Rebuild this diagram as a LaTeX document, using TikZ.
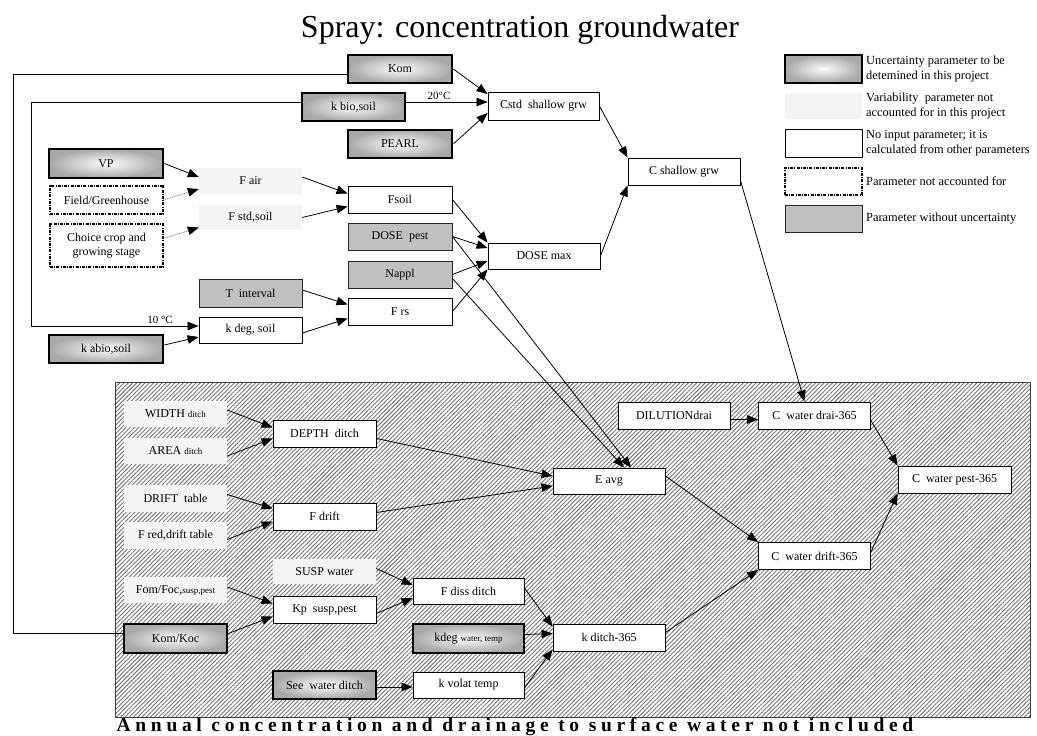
\documentclass[tikz,border=0pt]{standalone}
\usepackage{fontspec}
\setmainfont{Liberation Serif}
\newfontfamily\capfont[LetterSpace=24]{Liberation Serif}
\usetikzlibrary{arrows.meta,patterns.meta,calc}

\definecolor{parmgray}{RGB}{192,192,192}
\definecolor{varfill}{RGB}{244,244,244}
\definecolor{gradedge}{RGB}{168,168,168}
\definecolor{gradmid}{RGB}{253,253,253}
\definecolor{hatchline}{RGB}{115,115,115}

\newcommand{\sub}[1]{{\fontsize{9}{10}\selectfont #1}}

\tikzset{
  sz/.style 2 args={minimum width=#1pt, minimum height=#2pt},
  box/.style={rectangle, inner sep=1pt, align=center,
              font=\fontsize{12}{14}\selectfont},
  unc/.style={box, draw=black, line width=2.6pt,
              inner color=gradmid, outer color=gradedge},
  var/.style={box, fill=varfill},
  calc/.style={box, draw=black, line width=0.9pt, fill=white},
  fixed/.style={box, draw=black!85, line width=0.9pt, fill=parmgray},
  ign/.style={box, draw=black, line width=1.1pt, fill=white,
              dash pattern=on 3pt off 1.2pt on 1pt off 1.2pt},
  link/.style={line width=0.8pt, -{Triangle[length=11pt,width=8.5pt]}},
  weak/.style={line width=0.8pt, densely dotted, black!60,
               -{Triangle[length=11pt,width=8.5pt,color=black]}},
  plain/.style={line width=0.8pt},
  legtext/.style={anchor=west, align=left, inner sep=0pt,
                  font=\fontsize{12.4}{15}\selectfont},
}

\begin{document}
\begin{tikzpicture}[x=1pt,y=-1pt]
\useasboundingbox (0,0) rectangle (1037,736);
\fill[white] (0,0) rectangle (1037,736);

% title
\node[font=\fontsize{32}{36}\selectfont, inner sep=0pt] (title) at (520,30)
  {Spray: concentration groundwater};

% hatched panel for the surface water part
\fill[white] (115,382) rectangle (1030,717);
\fill[pattern={Lines[angle=45,distance=3pt,line width=0.9pt]}, pattern color=hatchline]
  (115,382) rectangle (1030,717);
\draw[black!75, line width=1pt] (115,382) rectangle (1030,717);

% ---------- groundwater part ----------
\node[unc,  sz={104}{28}] (kom)   at (400,69)    {Kom};
\node[unc,  sz={103}{28}] (kbio)  at (353.5,107) {k bio,soil};
\node[unc,  sz={104}{28}] (pearl) at (400,144)   {PEARL};
\node[unc,  sz={114}{29}] (vp)    at (106,163.5) {VP};
\node[ign,  sz={113}{28}] (field) at (106.5,200) {Field/Greenhouse};
\node[ign,  sz={113}{43}] (choice) at (106.5,245.5) {Choice crop and\\growing stage};
\node[var,  sz={103}{26}] (fair)  at (250.5,181)   {F air};
\node[var,  sz={103}{25}] (fstd)  at (250.5,217.5) {F std,soil};
\node[calc, sz={104}{27}] (fsoil) at (400,199.5)   {Fsoil};
\node[fixed,sz={104}{27}] (dosepest) at (400,236.5) {DOSE\ \ pest};
\node[fixed,sz={104}{27}] (nappl) at (400,274.5)   {Nappl};
\node[fixed,sz={103}{28}] (tint)  at (250.5,293)   {T\ \ interval};
\node[calc, sz={104}{27}] (frs)   at (400,311.5)   {F rs};
\node[calc, sz={103}{26}] (kdeg)  at (250.5,330)   {k deg, soil};
\node[unc,  sz={114}{28}] (kabio) at (106,349)     {k abio,soil};
\node[calc, sz={111}{28}] (cstd)  at (543.5,106)   {Cstd\ \ shallow grw};
\node[calc, sz={112}{27}] (cshallow) at (684,171.5) {C shallow grw};
\node[calc, sz={112}{26}] (dosemax) at (544,256)   {DOSE max};

% ---------- legend ----------
\node[unc,  sz={77}{28}] (l1) at (823.5,69)    {};
\node[var,  sz={77}{26}] (l2) at (823.5,106)   {};
\node[calc, sz={77}{28}] (l3) at (823.5,143)   {};
\node[ign,  sz={77}{27}] (l4) at (823.5,181.5) {};
\node[fixed,sz={77}{27}] (l5) at (823.5,218.5) {};
\node[legtext] (t1) at (866,69)    {Uncertainty parameter to be\\detemined in this project};
\node[legtext] (t2) at (866,106)   {Variability\ \ parameter not\\accounted for in this project};
\node[legtext] (t3) at (866,143)   {No input parameter; it is\\calculated from other parameters};
\node[legtext] (t4) at (866,181.5) {Parameter not accounted for};
\node[legtext] (t5) at (866,218.5) {Parameter without uncertainty};

% ---------- surface water part ----------
\node[var,  sz={103}{26}] (width) at (175.5,414)   {WIDTH \sub{ditch}};
\node[var,  sz={103}{26}] (area)  at (175.5,451)   {AREA \sub{ditch}};
\node[var,  sz={103}{27}] (drift) at (175.5,498.5) {DRIFT\ \ table};
\node[var,  sz={103}{27}] (fred)  at (175.5,535.5) {F red,drift table};
\node[calc, sz={103}{27}] (depth) at (324.5,433.5) {DEPTH\ \ ditch};
\node[calc, sz={103}{27}] (fdrift) at (324.5,516.5) {F drift};
\node[var,  sz={103}{25}] (susp)  at (324.5,571.5) {SUSP water};
\node[var,  sz={103}{26}] (fom)   at (175.5,590)   {Fom/Foc,\sub{susp,pest}};
\node[calc, sz={103}{27}] (kp)    at (324.5,609.5) {Kp\ \ susp,pest};
\node[calc, sz={111}{26}] (fdiss) at (468.5,591)   {F diss ditch};
\node[unc,  sz={103}{29}] (komkoc) at (175.5,638.5) {Kom/Koc};
\node[unc,  sz={111}{29}] (kdegw) at (468.5,638.5) {kdeg \sub{water, temp}};
\node[unc,  sz={103}{28}] (seew)  at (324.5,685)   {See\ \ water ditch};
\node[calc, sz={111}{26}] (kvolat) at (468.5,685)  {k volat temp};
\node[calc, sz={112}{27}] (kditch) at (609,637.5)  {k ditch-365};
\node[calc, sz={112}{27}] (dilution) at (674,415.5) {DILUTIONdrai};
\node[calc, sz={112}{27}] (cdrai) at (814.5,415.5) {C\ \ water drai-365};
\node[calc, sz={112}{26}] (eavg)  at (609,481)     {E avg};
\node[calc, sz={113}{27}] (cpest) at (954.5,479.5) {C\ \ water pest-365};
\node[calc, sz={112}{27}] (cdrift) at (814.5,556)  {C\ \ water drift-365};

\node[font=\capfont\bfseries\fontsize{19.5}{22}\selectfont, inner sep=0pt, anchor=base] (caption) at (515,731)
  {Annual concentration and drainage to surface water not included};

% ---------- connectors: groundwater ----------
\coordinate (komtop) at (13,74);
\coordinate (kombot) at (13,633);
\draw[plain] ($(kom.west)+(0,5)$) -- (komtop) -- (kombot) -- (komkoc.west |- kombot);

\coordinate (kbiotop) at (31,102);
\coordinate (kbiobot) at (31,326);
\draw[plain] ($(kbio.west)+(0,-5)$) -- (kbiotop) -- (kbiobot);
\draw[link] (kbiobot) -- (kdeg.west |- kbiobot);
\draw[link] ($(kbio.east)+(0,-5)$) -- ($(cstd.west)+(0,-4)$);
\node[font=\fontsize{11}{12}\selectfont, inner sep=0pt] (t20) at (439,96) {20°C};
\node[font=\fontsize{11}{12}\selectfont, inner sep=0pt] (t10) at (160,320) {10 °C};

\draw[link] (kom.east) -- ($(cstd.west)+(0,-12)$);
\draw[link] (pearl.east) -- ($(cstd.west)+(0,7)$);
\draw[link] (cstd.east) -- (cshallow.north west);
\draw[link] (dosemax.east) -- (cshallow.south west);
\draw[link] ($(cshallow.south east)+(0,-5)$) -- ($(cdrai.north)+(-10,0)$);

\draw[link] (vp.east) -- ($(fair.west)+(0,-4)$);
\draw[weak] (field.east) -- ($(fair.west)+(0,8)$);
\draw[weak] ($(choice.east)+(0,-7)$) -- ($(fstd.west)+(0,10)$);
\draw[link] ($(fair.east)+(0,-4)$) -- ($(fsoil.west)+(0,-6)$);
\draw[link] (fstd.east) -- ($(fsoil.west)+(0,7)$);

\draw[link] (fsoil.east) -- (dosemax.north west);
\draw[link] (dosepest.east) -- ($(dosemax.west)+(0,-8)$);
\draw[link] (nappl.east) -- ($(dosemax.west)+(0,5)$);
\draw[link] (frs.east) -- (dosemax.south west);
\draw[link] (dosepest.east) -- ($(eavg.north)+(22,0)$);
\draw[link] ($(nappl.east)+(0,4)$) -- ($(eavg.north)+(15,0)$);

\draw[link] ($(tint.east)+(0,-3)$) -- ($(frs.west)+(0,-7)$);
\draw[link] ($(kdeg.east)+(0,3)$) -- ($(frs.west)+(0,7)$);
\draw[link] ($(kabio.east)+(0,-4)$) -- ($(kdeg.west)+(0,7)$);

% ---------- connectors: surface water ----------
\draw[link] ($(width.east)+(0,-4)$) -- ($(depth.west)+(0,-6)$);
\draw[link] ($(area.east)+(0,5)$) -- ($(depth.west)+(0,5)$);
\draw[link] ($(drift.east)+(0,-4)$) -- ($(fdrift.west)+(0,-8)$);
\draw[link] ($(fred.east)+(0,4)$) -- ($(fdrift.west)+(0,5)$);
\draw[link] ($(depth.east)+(0,5)$) -- ($(eavg.west)+(0,-5)$);
\draw[link] ($(fdrift.east)+(0,-4)$) -- ($(eavg.west)+(0,5)$);
\draw[link] ($(eavg.east)+(0,-5)$) -- (cdrift.north west);
\draw[link] ($(dilution.east)+(0,4)$) -- ($(cdrai.west)+(0,4)$);
\draw[link] ($(cdrai.east)+(0,5)$) -- (cpest.north west);
\draw[link] ($(cdrift.east)+(0,-4)$) -- (cpest.south west);
\draw[link] ($(kditch.east)+(0,-5)$) -- (cdrift.south west);

\draw[link] ($(susp.east)+(0,-3)$) -- ($(fdiss.west)+(0,-6)$);
\draw[link] ($(fom.east)+(0,-3)$) -- ($(kp.west)+(0,-6)$);
\draw[link] ($(komkoc.east)+(0,-5)$) -- ($(kp.west)+(0,7)$);
\draw[link] ($(kp.east)+(0,4)$) -- ($(fdiss.west)+(0,7)$);
\draw[link] ($(fdiss.east)+(0,-3)$) -- ($(kditch.north west)+(0,3)$);
\draw[link] ($(kdegw.east)+(0,-4)$) -- ($(kditch.west)+(0,-4)$);
\draw[link] ($(kvolat.east)+(0,3)$) -- ($(kditch.south west)+(0,-2)$);
\draw[link] ($(seew.east)+(0,2)$) -- ($(kvolat.west)+(0,2)$);
\end{tikzpicture}
\end{document}
